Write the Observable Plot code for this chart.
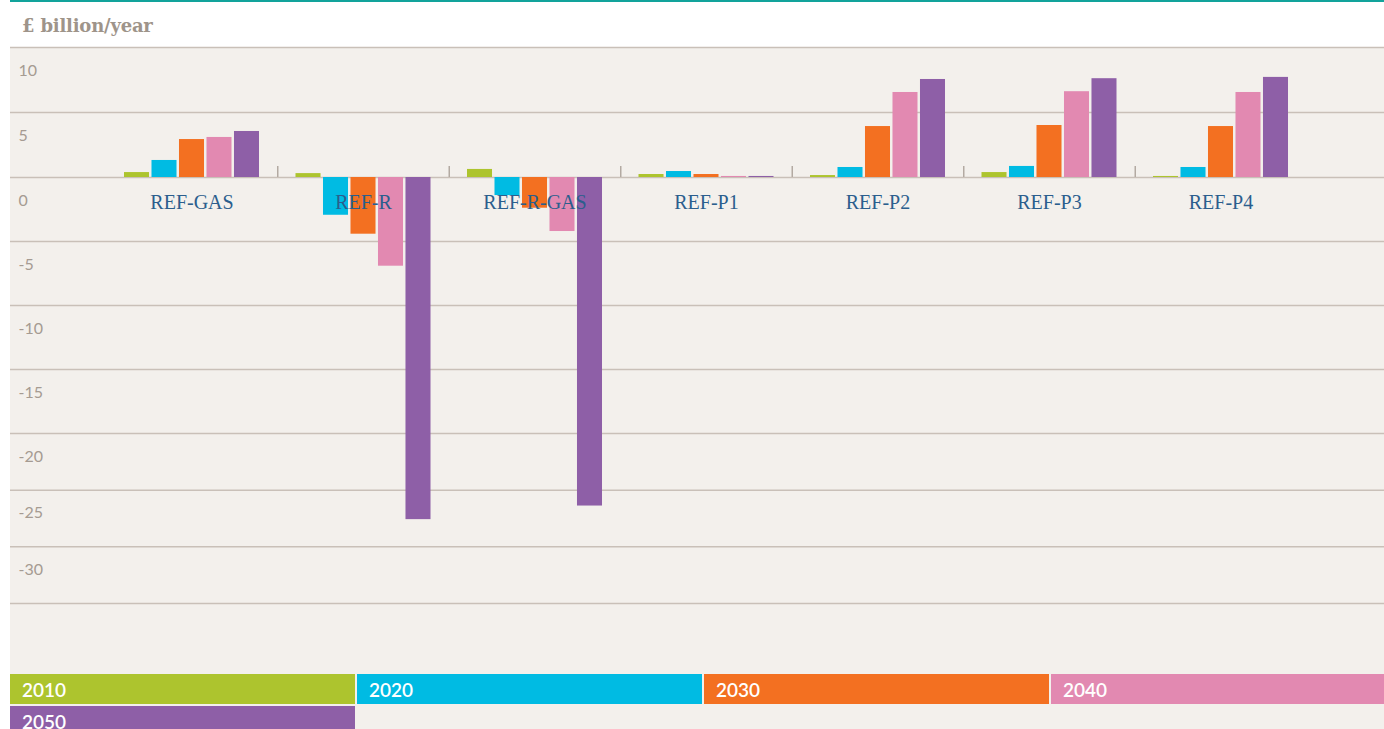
<!DOCTYPE html>
<html>
<head>
<meta charset="utf-8">
<script src="https://cdn.jsdelivr.net/npm/d3@7"></script>
<script src="https://cdn.jsdelivr.net/npm/@observablehq/plot@0.6"></script>
<style>
  html, body { margin: 0; padding: 0; background: #ffffff; width: 1384px; height: 729px; overflow: hidden; position: relative; }
  #teal { position: absolute; left: 10px; top: 0; width: 1374px; height: 2px; background: #12a39b; }
  #title { position: absolute; left: 22px; top: 15px; font-family: "DejaVu Serif", serif; font-weight: bold; font-size: 18px; color: #9e948a; letter-spacing: -0.2px; }
  #panel { position: absolute; left: 10px; top: 47px; right: 0; bottom: 0; background: #f3f0ec; }
  .layer { position: absolute; left: 0; top: 0; }
  #legend { position: absolute; left: 10px; top: 674px; width: 1386px; display: flex; flex-wrap: wrap; gap: 2px; }
  .item { width: 345px; height: 30px; box-sizing: border-box; padding-left: 12px; font-family: Lato, sans-serif; font-weight: 600; font-size: 19px; line-height: 31px; color: #ffffff; }
</style>
</head>
<body>
<div id="teal"></div>
<div id="title">£ billion/year</div>
<div id="panel"></div>
<div id="bg" class="layer"></div>
<div id="fg" class="layer"></div>
<div id="legend"></div>
<script>
// ---- data ----
const categories = ["REF-GAS", "REF-R", "REF-R-GAS", "REF-P1", "REF-P2", "REF-P3", "REF-P4"];
const years = ["2010", "2020", "2030", "2040", "2050"];
const v2010 = [0.38, 0.3, 0.62, 0.23, 0.15, 0.38, 0.08];
const v2020 = [1.31, -2.95, -1.41, 0.46, 0.77, 0.85, 0.77];
const v2030 = [2.92, -4.43, -2.4, 0.23, 3.92, 4.0, 3.92];
const v2040 = [3.08, -6.93, -4.22, 0.08, 6.54, 6.6, 6.54];
const v2050 = [3.54, -27.6, -26.4, 0.08, 7.54, 7.6, 7.7];
const colors = ["#adc42e", "#00bbe3", "#f37021", "#e289b1", "#8e5fa7"];
const yTickValues = [10, 5, 0, -5, -10, -15, -20, -25, -30];
const gridValues = [10, 5, 0, -5, -10, -15, -20, -25, -30, -35];

const seriesByYear = [v2010, v2020, v2030, v2040, v2050];
const rows = [];
categories.forEach((c, i) => years.forEach((yr, j) => rows.push({category: c, year: yr, value: seriesByYear[j][i]})));
const boundaries = d3.range(1, categories.length);

// shared (piecewise) y scale as drawn in the reference
const yScale = {type: "linear", domain: [10, 0, -20, -35], range: [47, 177, 433, 603], axis: null};

const W = 1384, H = 620;

// background: gridlines, tick labels, group separators
const bg = Plot.plot({
  width: W, height: H,
  marginLeft: 10, marginRight: 0, marginTop: 0, marginBottom: 0,
  style: {background: "transparent", overflow: "visible"},
  x: {type: "linear", domain: [0, categories.length], range: [105.75, 1306.25], axis: null},
  y: yScale,
  marks: [
    Plot.ruleY(gridValues, {y: d => d, stroke: "#c9c0b8", strokeWidth: 1.5}),
    Plot.text(yTickValues, {y: d => d, text: d => String(d), frameAnchor: "left", dx: 8, dy: 23,
      textAnchor: "start", fill: "#a59b92", fontSize: 16, fontFamily: "Lato, sans-serif"}),
    Plot.ruleX(boundaries, {x: d => d, y1: 0, y2: 0.85, stroke: "#b3aaa2", strokeWidth: 1.5})
  ]
});
document.getElementById("bg").appendChild(bg);

// foreground: grouped bars and category labels
const fg = Plot.plot({
  width: W, height: H,
  marginLeft: 105.75, marginRight: 77.75, marginTop: 0, marginBottom: 0,
  style: {background: "transparent", overflow: "visible"},
  fx: {domain: categories, paddingInner: 0.2128, paddingOuter: 0.1064, round: false, axis: null},
  x: {domain: years, paddingInner: 0.09, paddingOuter: 0, round: false, axis: null},
  y: yScale,
  color: {domain: years, range: colors},
  marks: [
    Plot.barY(rows, {fx: "category", x: "year", y: "value", fill: "year"}),
    Plot.text(categories, {fx: d => d, y: () => 0, text: d => d, frameAnchor: "middle", dy: 25,
      fill: "#2b5e8d", fontSize: 20, fontFamily: "Liberation Serif, serif"})
  ]
});
document.getElementById("fg").appendChild(fg);

// legend
const legend = document.getElementById("legend");
years.forEach((yr, i) => {
  const d = document.createElement("div");
  d.className = "item";
  d.style.background = colors[i];
  d.textContent = yr;
  legend.appendChild(d);
});
</script>
</body>
</html>
